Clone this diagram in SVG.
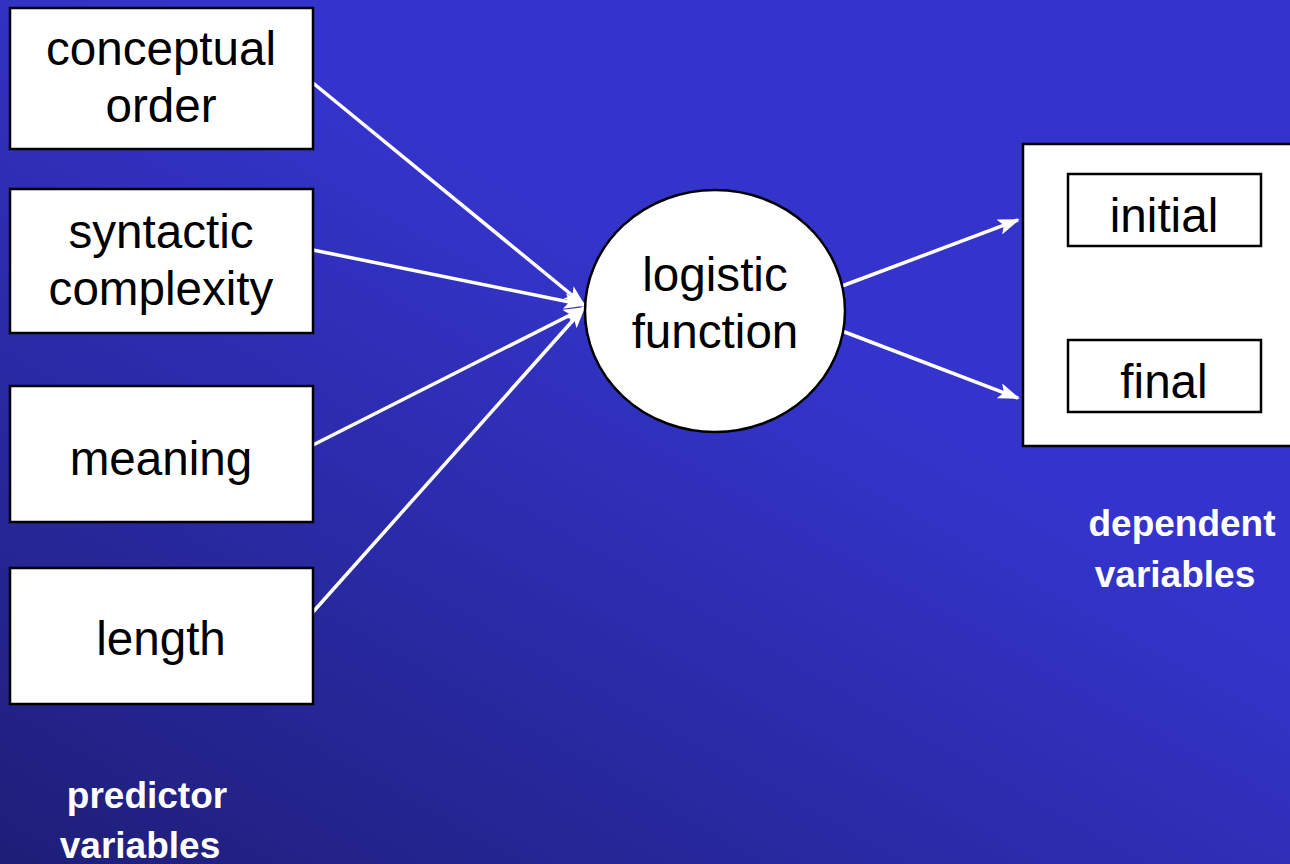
<svg xmlns="http://www.w3.org/2000/svg" width="1290" height="864" viewBox="0 0 1290 864">
<defs>
<linearGradient id="bg" x1="0" y1="1" x2="0.55" y2="0.35">
<stop offset="0" stop-color="#1e1e78"/>
<stop offset="1" stop-color="#3434cc"/>
</linearGradient>
<marker id="ah" markerWidth="22" markerHeight="16" refX="20" refY="8" orient="auto" markerUnits="userSpaceOnUse">
<path d="M0,0 L22,8 L0,16 L5,8 Z" fill="#fff"/>
</marker>
<style>
.box{fill:#fff;stroke:#000;stroke-width:2.5}
.t{font-family:"Liberation Sans",Arial,sans-serif;font-size:47.6px;fill:#000;text-anchor:middle}
.lb{font-family:"Liberation Sans",Arial,sans-serif;font-size:37px;font-weight:bold;fill:#fff;text-anchor:middle}
.c{stroke:#fff;stroke-width:3.5;fill:none;marker-end:url(#ah)}
</style>
</defs>
<rect width="1290" height="864" fill="url(#bg)"/>
<g id="connectors">
<line class="c" x1="313" y1="83" x2="584" y2="305"/>
<line class="c" x1="313" y1="250" x2="584" y2="305"/>
<line class="c" x1="313" y1="445" x2="584" y2="308"/>
<line class="c" x1="313" y1="612" x2="584" y2="308"/>
<line class="c" x1="842" y1="286" x2="1018" y2="220"/>
<line class="c" x1="842" y1="331" x2="1018" y2="398"/>
</g>
<g id="n-conceptual">
<rect class="box" x="10" y="8" width="303" height="141"/>
<text class="t" x="161" y="65">conceptual</text>
<text class="t" x="161" y="122">order</text>
</g>
<g id="n-syntactic">
<rect class="box" x="10" y="189" width="303" height="144"/>
<text class="t" x="161" y="248">syntactic</text>
<text class="t" x="161" y="305">complexity</text>
</g>
<g id="n-meaning">
<rect class="box" x="10" y="386" width="303" height="136"/>
<text class="t" x="161" y="475">meaning</text>
</g>
<g id="n-length">
<rect class="box" x="10" y="568" width="303" height="136"/>
<text class="t" x="161" y="655">length</text>
</g>
<g id="n-logistic">
<ellipse cx="715" cy="311" rx="130" ry="121" fill="#fff" stroke="#000" stroke-width="2.5"/>
<text class="t" x="715" y="291">logistic</text>
<text class="t" x="715" y="348">function</text>
</g>
<g id="n-dependent">
<rect class="box" x="1023" y="144" width="280" height="302"/>
<rect class="box" x="1068" y="174" width="193" height="72" stroke-width="2"/>
<text class="t" x="1164" y="232">initial</text>
<rect class="box" x="1068" y="340" width="193" height="72" stroke-width="2"/>
<text class="t" x="1164" y="398">final</text>
</g>
<g id="l-dependent">
<text class="lb" x="1182" y="536">dependent</text>
<text class="lb" x="1175" y="587">variables</text>
</g>
<g id="l-predictor">
<text class="lb" x="147" y="808">predictor</text>
<text class="lb" x="140" y="858">variables</text>
</g>
</svg>
